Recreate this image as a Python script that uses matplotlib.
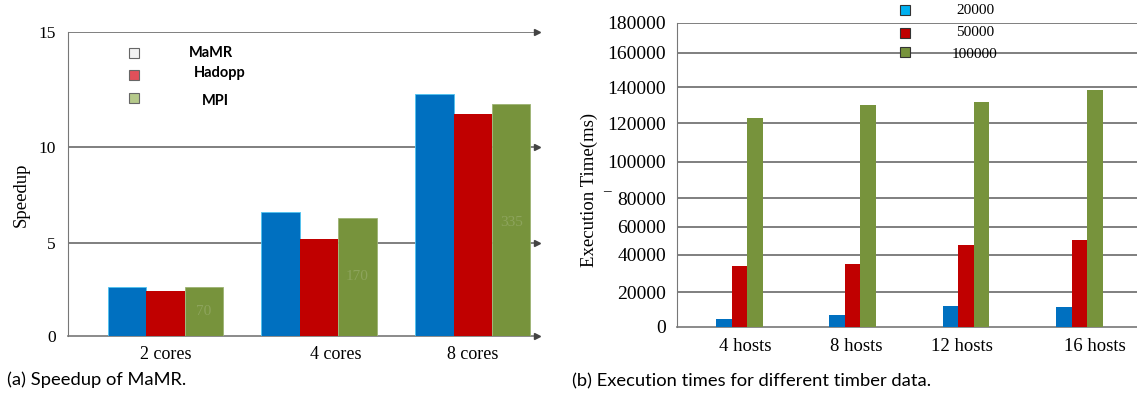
import numpy as np
import matplotlib.pyplot as plt
from matplotlib.lines import Line2D

# ---- data ----
cores = ['2 cores', '4 cores', '8 cores']
mamr = [2.64, 6.61, 12.30]
hadoop = [2.43, 5.19, 11.42]
mpi = [2.61, 6.30, 11.85]
mpi_notes = ['70', '170', '335']
left_legend = ['MaMR', 'Hadopp', 'MPI']

hosts = ['4 hosts', '8 hosts', '12 hosts', '16 hosts']
t20000 = [4300, 6800, 12000, 11600]
t50000 = [34100, 34800, 46800, 50400]
t100000 = [123100, 130200, 131700, 138500]
right_legend = ['20000', '50000', '100000']

# the original axes are not evenly spaced, so map ticks to their pixel heights
left_ticks = [0, 5, 10, 15]
left_tick_px = [0, 93.3, 189.3, 303.7]
right_ticks = [0, 20000, 40000, 60000, 80000, 100000, 120000, 140000, 160000, 180000]
right_tick_px = [0, 34.4, 72.2, 100, 128.4, 165, 203.4, 239.4, 274, 304]

BLUE, RED, GREEN = '#0070C0', '#C00000', '#77933C'
GRID = '#6A6A6A'
W, H = 1137, 396

plt.rcParams['font.family'] = 'Liberation Serif'


def fx(px):
    return px / W


def fy(py):
    return 1 - py / H


def warped(ticks, px):
    t = np.array(ticks, float)
    p = np.array(px, float)
    # extend linearly on both sides so values outside still map
    t = np.r_[t[0] - (t[1] - t[0]), t, t[-1] + (t[-1] - t[-2])]
    p = np.r_[p[0] - (p[1] - p[0]), p, p[-1] + (p[-1] - p[-2])]
    fwd = lambda v: np.interp(v, t, p)
    inv = lambda v: np.interp(v, p, t)
    return fwd, inv


fig = plt.figure(figsize=(W / 100, H / 100), dpi=100)

# ================= (a) speedup =================
axL = fig.add_axes([fx(68), fy(336), fx(537) - fx(68), (336 - 32.3) / H])
axL.set_yscale('function', functions=warped(left_ticks, left_tick_px))
x = np.arange(len(cores))
bw = 0.25
axL.bar(x - bw, mamr, bw, color=BLUE, edgecolor='#4FC3F0', linewidth=0.6, zorder=3)
axL.bar(x, hadoop, bw, color=RED, zorder=3)
axL.bar(x + bw, mpi, bw, color=GREEN, edgecolor='#9DB373', linewidth=0.6, zorder=3)
for xi, yi, note in zip(x, mpi, mpi_notes):
    axL.text(xi + bw, yi * 0.51, note, color='#8DA45C',
             ha='center', va='center', fontsize=11, zorder=4)

axL.set_xlim(-0.633, 2.418)
axL.set_ylim(0, 15)
axL.set_yticks(left_ticks)
axL.set_yticklabels([str(t) for t in left_ticks])
for t in left_ticks[1:]:
    axL.axhline(t, color=GRID, lw=1.2, zorder=1)
axL.plot([2.418] * 4, left_ticks, marker='>', ls='none', color='#444444',
         markersize=4, clip_on=False, zorder=5)
axL.set_xticks([0, 1.11, 2])
axL.set_xticklabels(cores)
axL.tick_params(axis='y', length=0, pad=9, labelsize=12.5)
axL.tick_params(axis='x', length=0, pad=7, labelsize=13)
for s in ['top', 'right']:
    axL.spines[s].set_visible(False)
axL.spines['left'].set_color('#777777')
axL.spines['bottom'].set_color('#777777')
axL.spines['bottom'].set_linewidth(1.2)
axL.set_ylabel('Speedup', fontsize=13.5)
axL.yaxis.set_label_coords(-0.081, 0.464)

# legend drawn by hand like the original
leg_faces = ['#F2F2F2', '#E0505A', '#B5C98A']
leg_y = [53.3, 75, 98.3]
txt_y = [53.3, 73.3, 100.7]
txt_x = [210.5, 219.5, 215]
for name, fc, my, ty, tx in zip(left_legend, leg_faces, leg_y, txt_y, txt_x):
    fig.add_artist(Line2D([fx(134)], [fy(my)], marker='s', markersize=7,
                          markerfacecolor=fc, markeredgecolor='#666666',
                          markeredgewidth=0.8, transform=fig.transFigure))
    fig.text(fx(tx), fy(ty), name, ha='center', va='center', fontsize=10.5,
             fontweight='bold', family='Lato')

fig.text(fx(7), fy(380), '(a) Speedup of MaMR.', ha='left', va='center',
         fontsize=13.2, family='Lato')

# ================= (b) execution time =================
axR = fig.add_axes([fx(677.3), fy(326.7), 1 - fx(677.3), (326.7 - 22.7) / H])
axR.set_yscale('function', functions=warped(right_ticks, right_tick_px))
xr = np.arange(len(hosts))
bw2 = 0.137
axR.bar(xr - bw2, t20000, bw2, color=BLUE, zorder=3)
axR.bar(xr, t50000, bw2, color=RED, zorder=3)
axR.bar(xr + bw2, t100000, bw2, color=GREEN, zorder=3)

axR.set_xlim(-0.548, 3.509)
axR.set_ylim(0, 180000)
axR.set_yticks(right_ticks)
axR.set_yticklabels([str(t) for t in right_ticks])
for t in right_ticks[1:]:
    axR.axhline(t, color=GRID, lw=1.2, zorder=1)
axR.set_xticks([0.05, 1.03, 1.96, 3.14])
axR.set_xticklabels(hosts)
axR.tick_params(axis='y', length=0, pad=8, labelsize=14)
axR.tick_params(axis='x', length=0, pad=8, labelsize=13.5)
for s in ['top', 'right']:
    axR.spines[s].set_visible(False)
axR.spines['left'].set_color('#777777')
axR.spines['bottom'].set_color('#777777')
axR.spines['bottom'].set_linewidth(1.2)
axR.set_ylabel('Execution Time(ms)', fontsize=13.5)
axR.yaxis.set_label_coords(-0.1725, 0.45)

leg2_faces = ['#00B0F0', RED, GREEN]
leg2_y = [10, 33.3, 52.3]
txt2_y = [10, 33, 55]
for name, fc, my, ty in zip(right_legend, leg2_faces, leg2_y, txt2_y):
    fig.add_artist(Line2D([fx(905)], [fy(my)], marker='s', markersize=7,
                          markerfacecolor=fc, markeredgecolor='#333333',
                          markeredgewidth=0.8, transform=fig.transFigure))
    fig.text(fx(975), fy(ty), name, ha='center', va='center', fontsize=11)

fig.text(fx(606.7), fy(191.7), '–', ha='center', va='center', fontsize=11)
fig.text(fx(572), fy(381), '(b) Execution times for different timber data.',
         ha='left', va='center', fontsize=13.2, family='Lato')

fig.savefig('out.png', dpi=100)
